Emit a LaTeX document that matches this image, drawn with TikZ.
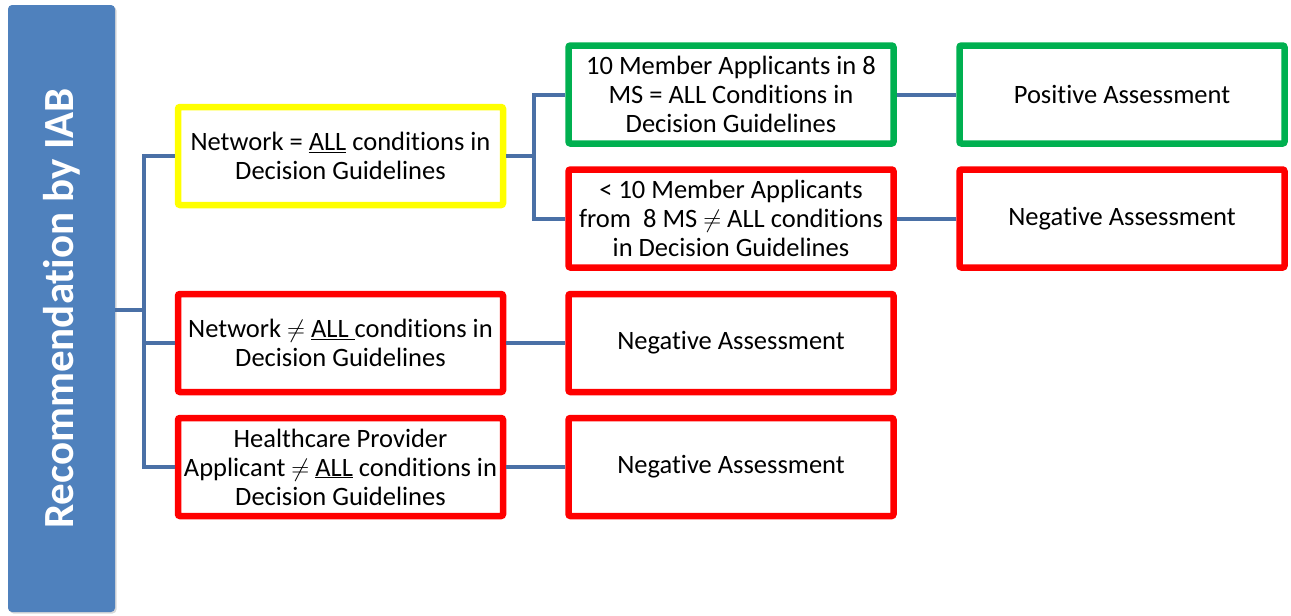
\documentclass[tikz,border=0pt]{standalone}
\usepackage{fontspec}
\setmainfont{Carlito}[Ligatures={NoCommon}]
\usetikzlibrary{shadows}
\definecolor{barblue}{HTML}{4F81BD}
\definecolor{lineblue}{HTML}{4A70A6}
\definecolor{boxyellow}{HTML}{FFFF00}
\definecolor{boxgreen}{HTML}{00B050}
\definecolor{boxred}{HTML}{FF0000}
\tikzset{
  box/.style={draw, line width=6.5pt, rounded corners=2pt, fill=white,
    minimum width=325pt, minimum height=98pt, align=center, inner sep=2pt,
    font=\fontsize{26.5}{29}\selectfont,
    drop shadow={shadow xshift=2pt, shadow yshift=-2.5pt, opacity=0.3, fill=black!60}},
  ybox/.style={box, draw=boxyellow},
  gbox/.style={box, draw=boxgreen},
  rbox/.style={box, draw=boxred},
  conn/.style={draw=lineblue, line width=4pt},
}
\begin{document}
\begin{tikzpicture}[x=1pt,y=-1pt]
\useasboundingbox (0,0) rectangle (1291,616);
\node[fill=barblue, rounded corners=4pt, minimum width=107pt, minimum height=607pt,
  inner sep=0pt, outer sep=0pt,
  drop shadow={shadow xshift=1.5pt, shadow yshift=-1.5pt, opacity=0.25, fill=black!60}] (bar) at (61.5,308.5) {};
\node[rotate=90, text=white, font=\bfseries\fontsize{43}{48}\selectfont] (bartext) at (bar.center) {Recommendation by IAB};

\node[ybox] (net) at (340.5,156) {Network = \underline{ALL} conditions in\\Decision Guidelines};
\node[gbox] (ok) at (731,94.5) {10 Member Applicants in 8\\MS = ALL Conditions in\\Decision Guidelines};
\node[rbox] (few) at (731,218.5) {< 10 Member Applicants\\from\ \ 8 MS $\neq$ ALL conditions\\in Decision Guidelines};
\node[gbox] (pos) at (1122,94.5) {Positive Assessment};
\node[rbox] (negA) at (1122,218.5) {Negative Assessment};
\node[rbox] (netneq) at (340.5,343) {Network $\neq$ \underline{ALL\ }conditions in\\Decision Guidelines};
\node[rbox] (negB) at (731,343) {Negative Assessment};
\node[rbox] (hc) at (340.5,467) {Healthcare Provider\\Applicant $\neq$ \underline{ALL} conditions in\\Decision Guidelines};
\node[rbox] (negC) at (731,467) {Negative Assessment};

\coordinate (trunk) at (144,310);
\draw[conn] (bar.east |- trunk) -- (trunk);
\draw[conn] (net.west) -| (trunk) |- (hc.west);
\draw[conn] (netneq.west) -- (trunk |- netneq.west);
\coordinate (split) at (534,156);
\draw[conn] (net.east) -- (split);
\draw[conn] (ok.west) -| (split) |- (few.west);
\draw[conn] (ok.east) -- (pos.west);
\draw[conn] (few.east) -- (negA.west);
\draw[conn] (netneq.east) -- (negB.west);
\draw[conn] (hc.east) -- (negC.west);
\end{tikzpicture}
\end{document}
